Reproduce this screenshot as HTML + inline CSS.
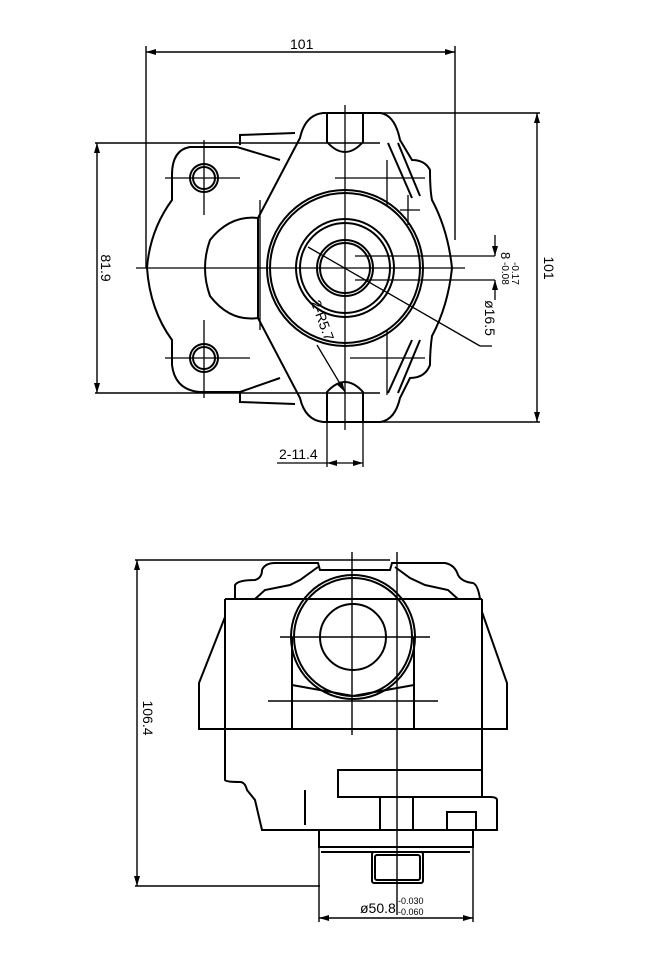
<!DOCTYPE html>
<html><head><style>body{margin:0;background:#fff}svg{display:block}</style></head><body>
<svg width="650" height="956" viewBox="0 0 650 956" xmlns="http://www.w3.org/2000/svg" font-family="Liberation Sans Narrow, Liberation Sans, sans-serif">
<defs><marker id="a" markerWidth="10" markerHeight="6" refX="10" refY="3" orient="auto-start-reverse" markerUnits="userSpaceOnUse"><path d="M0,0L10,3L0,6z" fill="#000"/></marker></defs>
<g fill="none" stroke="#000" stroke-width="2">
<!-- TOP VIEW -->
<g stroke-width="1.4">
<line x1="146" y1="46" x2="146" y2="268"/>
<line x1="455" y1="46" x2="455" y2="240"/>
<line x1="146" y1="52" x2="455" y2="52" marker-start="url(#a)" marker-end="url(#a)"/>
<line x1="95" y1="143" x2="380" y2="143"/>
<line x1="95" y1="393" x2="380" y2="393"/>
<line x1="97" y1="143" x2="97" y2="393" marker-start="url(#a)" marker-end="url(#a)"/>
<line x1="350" y1="113" x2="540" y2="113"/>
<line x1="370" y1="422" x2="540" y2="422"/>
<line x1="537" y1="113" x2="537" y2="422" marker-start="url(#a)" marker-end="url(#a)"/>
</g>
<!-- left flange -->
<path d="M237,147 L190,147 Q172,150 172,175 L172,200 Q150,230 147,268 Q150,310 172,340 L172,365 Q175,390 200,392 L240,392"/>
<path d="M237,147 L280,160 M240,392 L280,378"/>
<path d="M240,145 L240,135 L295,133 M240,392 L240,402 L295,404"/>
<circle cx="204" cy="178" r="14"/><circle cx="204" cy="178" r="11"/>
<circle cx="204" cy="358" r="14"/><circle cx="204" cy="358" r="11"/>
<path d="M258,218 Q230,215 210,240 Q200,268 210,296 Q230,322 258,318"/>
<!-- central flange -->
<path d="M323,113 L380,113 Q395,115 400,140 L412,160 Q425,160 430,170 Q430,190 432,200 Q448,230 452,268 Q448,306 432,336 Q430,350 430,365 Q425,378 410,378 L400,398 Q395,420 380,422 L323,422 Q305,420 300,398 L258,318 L258,218 L300,138 Q305,115 323,113Z"/>
<path d="M327,113 L327,142 Q345,162 363,142 L363,113"/>
<path d="M327,422 L327,392 Q345,372 363,392 L363,422"/>
<path d="M388,143 L412,198 M398,143 L420,196 M388,393 L412,340 M398,393 L420,340"/>
<circle cx="345" cy="268" r="78"/><circle cx="345" cy="268" r="75"/>
<circle cx="345" cy="268" r="49"/><circle cx="345" cy="268" r="45"/>
<circle cx="345" cy="268" r="28"/><circle cx="345" cy="268" r="25"/>
<g stroke-width="1.3">
<line x1="136" y1="268" x2="465" y2="268"/>
<line x1="345" y1="105" x2="345" y2="430"/>
<line x1="165" y1="178" x2="240" y2="178"/><line x1="204" y1="140" x2="204" y2="215"/>
<line x1="165" y1="358" x2="250" y2="358"/><line x1="204" y1="320" x2="204" y2="398"/>
<line x1="335" y1="178" x2="425" y2="178"/><line x1="387" y1="160" x2="387" y2="205"/>
<line x1="350" y1="358" x2="425" y2="358"/><line x1="387" y1="330" x2="387" y2="395"/>
<line x1="400" y1="210" x2="420" y2="210"/><line x1="408" y1="195" x2="408" y2="225"/>
<line x1="260" y1="200" x2="260" y2="330"/>
<line x1="355" y1="256" x2="495" y2="256"/><line x1="355" y1="280" x2="495" y2="280"/>
<line x1="495" y1="235" x2="495" y2="256" marker-end="url(#a)"/><line x1="495" y1="300" x2="495" y2="280" marker-end="url(#a)"/>
<line x1="308" y1="247" x2="480" y2="346"/><line x1="480" y1="346" x2="492" y2="346"/>
<line x1="317" y1="345" x2="345" y2="392" marker-end="url(#a)"/>
<line x1="327" y1="400" x2="327" y2="467"/><line x1="363" y1="400" x2="363" y2="467"/>
<line x1="277" y1="463" x2="327" y2="463"/>
<line x1="327" y1="463" x2="363" y2="463" marker-start="url(#a)" marker-end="url(#a)"/>
</g>
<!-- BOTTOM VIEW -->
<g stroke-width="1.4">
<line x1="135" y1="560" x2="390" y2="560"/><line x1="135" y1="886" x2="320" y2="886"/>
<line x1="137" y1="560" x2="137" y2="886" marker-start="url(#a)" marker-end="url(#a)"/>
<line x1="319" y1="847" x2="319" y2="922"/><line x1="473" y1="847" x2="473" y2="922"/>
<line x1="319" y1="918" x2="473" y2="918" marker-start="url(#a)" marker-end="url(#a)"/>
<line x1="352" y1="552" x2="352" y2="735"/><line x1="397" y1="552" x2="397" y2="915"/>
<line x1="280" y1="637" x2="430" y2="637"/><line x1="268" y1="701" x2="438" y2="701"/>
</g>
<path d="M235,599 L235,585 Q238,580 255,580 Q262,578 262,570 Q265,563 275,563 L318,563 L320,570 L390,570 L392,563 L445,563 Q455,565 458,575 Q462,582 473,583 Q478,585 480,599"/>
<path d="M255,599 L265,590 L290,585 L300,580 L318,567 M458,599 L448,590 L425,585 L410,578 L395,567"/>
<path d="M225,599 L482,599 M225,617 L199,683 L199,729 L507,729 L507,683 L482,612"/>
<path d="M225,599 L225,780 Q226,782 240,782 Q245,782 247,790 L255,800 L262,830 L497,830 L497,800 Q497,797 490,797 L482,797 L482,599"/>
<rect x="338" y="770" width="144" height="27"/>
<path d="M380,797 L380,830 M413,797 L413,830 M305,790 L305,825"/>
<rect x="447" y="812" width="29" height="18"/>
<path d="M319,830 L319,847 L473,847 L473,830 M321,852 L470,852"/>
<rect x="372" y="852" width="51" height="31" rx="2"/><rect x="375" y="855" width="45" height="25" rx="2"/>
<circle cx="353" cy="637" r="62"/><circle cx="353" cy="637" r="59"/><circle cx="353" cy="637" r="33"/>
<path d="M292,637 L292,729 M414,637 L414,729 M292,685 L353,696 L414,685"/>
</g>
<g font-size="14" fill="#000">
<text x="290" y="49">101</text>
<text transform="translate(101,268) rotate(90)" text-anchor="middle">81.9</text>
<text transform="translate(544,268) rotate(90)" text-anchor="middle">101</text>
<text transform="translate(501,252) rotate(90)" font-size="13">8</text>
<text transform="translate(502,262) rotate(90)" font-size="10">-0.08</text>
<text transform="translate(512,262) rotate(90)" font-size="10">-0.17</text>
<text transform="translate(485,318) rotate(90)" text-anchor="middle">ø16.5</text>
<text transform="translate(318,322) rotate(70)" text-anchor="middle">2-R5.7</text>
<text x="279" y="459">2-11.4</text>
<text transform="translate(143,718) rotate(90)" text-anchor="middle">106.4</text>
<text x="360" y="913">ø50.8</text>
<text x="398" y="904" font-size="9">-0.030</text>
<text x="398" y="915" font-size="9">-0.060</text>
</g>
</svg>
</body></html>
